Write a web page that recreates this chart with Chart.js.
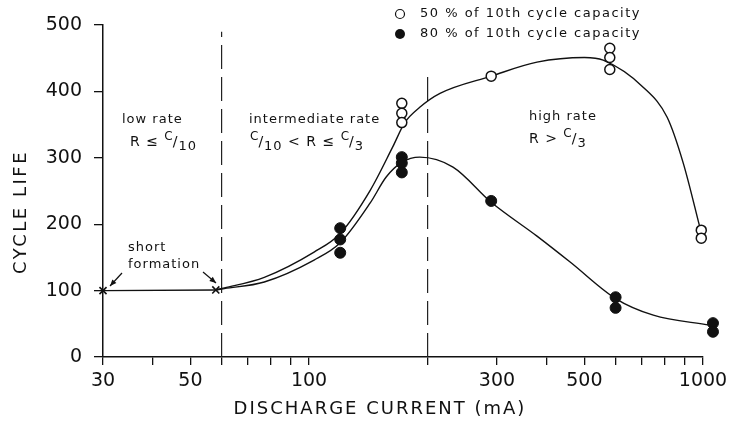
<!DOCTYPE html>
<html>
<head>
<title>Cycle life vs discharge current</title>
<style>
  html, body { margin: 0; padding: 0; background: #fff; }
  #wrap { width: 737px; height: 423px; }
</style>
</head>
<body>
<div id="wrap"><canvas id="chart"></canvas></div>
<script src="https://cdn.jsdelivr.net/npm/chart.js"></script>
<script>
// values: discharge current (mA) vs cycle life
const open50X = [172, 172, 172, 290, 580, 580, 580, 990, 990];
const open50Y = [382, 367, 353, 423, 465, 451, 433, 191, 179];
// the two points past 1000 mA come first so every point gets drawn
const filled80X = [1060, 1060, 120, 120, 120, 172, 172, 172, 290, 600, 600];
const filled80Y = [51, 38, 194, 177, 157, 301, 292, 278, 235, 90, 74];

// "short formation" points (x marks) and the flat line between them
const shortX = [30, 58];
const shortY = [100, 101];

// hand drawn fit curves
const curve50X = [58, 61, 77, 103, 120, 143, 163, 175, 191, 215, 290, 379, 500, 558, 706, 811, 891, 986];
const curve50Y = [101, 104, 120, 158, 186, 251, 316, 353, 376, 397, 423, 444, 451, 447, 406, 361, 292, 191];
const curve80X = [58, 61, 77, 103, 120, 143, 157, 172, 191, 232, 290, 379, 460, 600, 748, 1040];
const curve80Y = [101, 103, 113, 146, 172, 232, 271, 293, 301, 286, 233, 182, 143, 88, 63, 48];

// rate region boundaries (dashed lines) and how high they go
const boundX = [60, 200];
const boundTop = [490, 427];

// axes
const xTicks = [30, 40, 50, 60, 70, 80, 90, 100, 200, 300, 400, 500, 600, 700, 800, 900, 1000];
const xLabels = [30, 50, 100, 300, 500, 1000];
const yTicks = [0, 100, 200, 300, 400, 500];

const FONT = '"DejaVu Sans", sans-serif';

function pts(xs, ys) {
    return xs.map((x, i) => ({ x: x, y: ys[i] }));
}

function lineSet(xs, ys) {
    return {
        data: pts(xs, ys),
        showLine: true,
        pointRadius: 0,
        borderColor: '#111',
        borderWidth: 1.4,
        cubicInterpolationMode: 'monotone',
        clip: false
    };
}

function dashSet(i) {
    return {
        data: [{ x: boundX[i], y: 0 }, { x: boundX[i], y: boundTop[i] }],
        showLine: true,
        pointRadius: 0,
        borderColor: '#222',
        borderWidth: 1.2,
        borderDash: [24, 8]
    };
}

// draws "C/n" with raised C and lowered denominator, returns the end x
function frac(ctx, x, y, den) {
    ctx.font = '12px ' + FONT;
    ctx.fillText('C', x, y - 5);
    x += ctx.measureText('C').width;
    ctx.font = '14px ' + FONT;
    ctx.fillText('/', x - 1, y);
    x += ctx.measureText('/').width - 1;
    ctx.font = '13px ' + FONT;
    ctx.fillText(den, x, y + 5);
    return x + ctx.measureText(den).width;
}

function arrow(ctx, x1, y1, x2, y2) {
    ctx.beginPath();
    ctx.moveTo(x1, y1);
    ctx.lineTo(x2, y2);
    ctx.stroke();
    const a = Math.atan2(y2 - y1, x2 - x1);
    ctx.beginPath();
    ctx.moveTo(x2, y2);
    ctx.lineTo(x2 - 7 * Math.cos(a - 0.4), y2 - 7 * Math.sin(a - 0.4));
    ctx.lineTo(x2 - 7 * Math.cos(a + 0.4), y2 - 7 * Math.sin(a + 0.4));
    ctx.closePath();
    ctx.fill();
}

const labels = {
    id: 'labels',
    afterDraw(chart) {
        const ctx = chart.ctx;
        ctx.save();
        ctx.fillStyle = '#111';
        ctx.strokeStyle = '#111';
        ctx.lineWidth = 1.2;
        ctx.textBaseline = 'middle';
        ctx.textAlign = 'left';

        // axis titles
        ctx.letterSpacing = '2px';
        ctx.font = '18px ' + FONT;
        ctx.textAlign = 'center';
        ctx.fillText('DISCHARGE CURRENT (mA)', 380, 409);
        ctx.save();
        ctx.translate(21, 212);
        ctx.rotate(-Math.PI / 2);
        ctx.letterSpacing = '2.5px';
        ctx.fillText('CYCLE LIFE', 0, 0);
        ctx.restore();
        ctx.textAlign = 'left';

        // legend
        ctx.font = '13px ' + FONT;
        ctx.letterSpacing = '1.5px';
        ctx.fillText('50 % of 10th cycle capacity', 420, 14);
        ctx.fillText('80 % of 10th cycle capacity', 420, 34);
        ctx.beginPath();
        ctx.arc(400, 14, 4.5, 0, Math.PI * 2);
        ctx.stroke();
        ctx.beginPath();
        ctx.arc(400, 34, 5, 0, Math.PI * 2);
        ctx.fill();

        // region labels
        ctx.letterSpacing = '1px';
        ctx.font = '13px ' + FONT;
        ctx.fillText('low rate', 122, 120);
        ctx.fillText('intermediate rate', 249, 120);
        ctx.fillText('high rate', 529, 117);

        ctx.font = '14px ' + FONT;
        ctx.fillText('R \u2264', 130, 142);
        frac(ctx, 130 + ctx.measureText('R \u2264 ').width, 142, '10');

        let x = frac(ctx, 250, 142, '10');
        ctx.font = '14px ' + FONT;
        ctx.fillText(' < R \u2264 ', x, 142);
        x += ctx.measureText(' < R \u2264 ').width;
        frac(ctx, x, 142, '3');

        ctx.font = '14px ' + FONT;
        ctx.fillText('R >', 529, 139);
        frac(ctx, 529 + ctx.measureText('R > ').width, 139, '3');

        // short formation
        ctx.font = '13px ' + FONT;
        ctx.fillText('short', 128, 248);
        ctx.fillText('formation', 128, 265);
        ctx.letterSpacing = '0px';
        arrow(ctx, 122, 273, 110, 286);
        arrow(ctx, 203, 272, 216, 283);
        ctx.restore();
    }
};

new Chart(document.getElementById('chart'), {
    type: 'scatter',
    data: {
        datasets: [
            {
                data: pts(open50X, open50Y),
                pointRadius: 5,
                pointBackgroundColor: '#fff',
                pointBorderColor: '#111',
                pointBorderWidth: 1.5,
                clip: false
            },
            {
                data: pts(filled80X, filled80Y),
                pointRadius: 5.5,
                pointHoverRadius: 14,
                pointBackgroundColor: '#111',
                pointBorderColor: '#111',
                pointBorderWidth: 1,
                clip: false
            },
            {
                data: pts(shortX, shortY),
                showLine: true,
                borderColor: '#111',
                borderWidth: 1.4,
                pointStyle: 'crossRot',
                pointRadius: 5,
                pointBorderColor: '#111',
                pointBorderWidth: 1.6,
                clip: false
            },
            lineSet(curve50X, curve50Y),
            lineSet(curve80X, curve80Y),
            dashSet(0),
            dashSet(1)
        ]
    },
    options: {
        responsive: true,
        maintainAspectRatio: false,
        animation: false,
        events: [],
        layout: { padding: { top: 25, right: 34, left: 0, bottom: 0 } },
        plugins: {
            legend: { display: false },
            tooltip: { enabled: false }
        },
        scales: {
            x: {
                type: 'logarithmic',
                min: 30,
                max: 1000,
                afterBuildTicks(scale) {
                    scale.ticks = xTicks.map(v => ({ value: v }));
                },
                afterFit(scale) { scale.height = 66; },
                grid: { drawOnChartArea: false, drawTicks: true, tickLength: 8, color: '#111', lineWidth: 1.3 },
                border: { color: '#111', width: 1.5 },
                ticks: {
                    autoSkip: false,
                    maxRotation: 0,
                    padding: 5,
                    color: '#111',
                    font: { family: FONT, size: 19 },
                    callback: v => xLabels.includes(v) ? String(v) : ''
                }
            },
            y: {
                min: 0,
                max: 500,
                afterBuildTicks(scale) {
                    scale.ticks = yTicks.map(v => ({ value: v }));
                },
                afterFit(scale) { scale.width = 103; },
                grid: { drawOnChartArea: false, drawTicks: true, tickLength: 9, color: '#111', lineWidth: 1.3 },
                border: { color: '#111', width: 1.5 },
                ticks: {
                    padding: 12,
                    color: '#111',
                    font: { family: FONT, size: 19 }
                }
            }
        }
    },
    plugins: [labels]
});
</script>
</body>
</html>
